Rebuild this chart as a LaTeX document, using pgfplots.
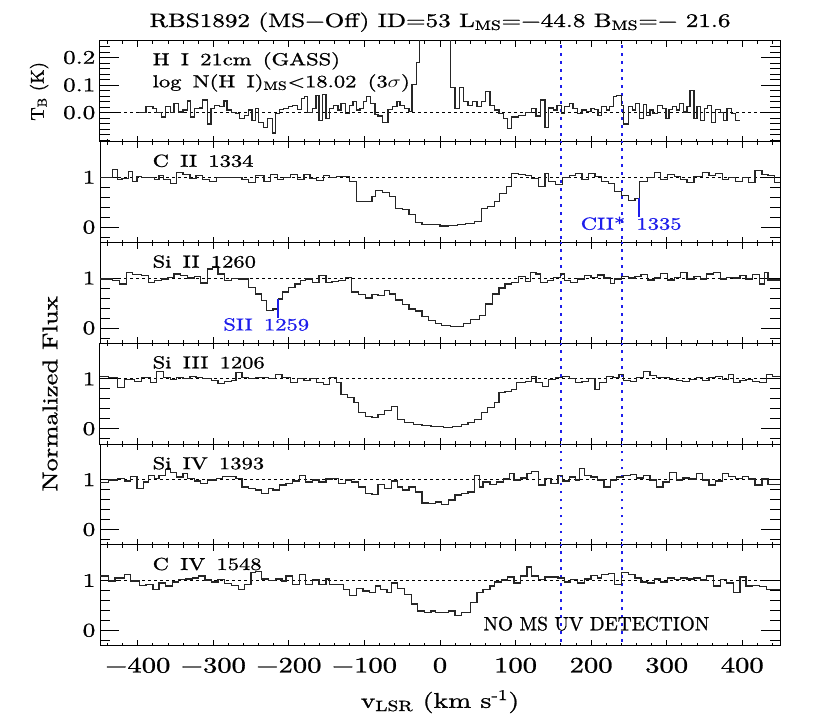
\RequirePackage{fix-cm}
\documentclass[border=0pt]{standalone}
\usepackage{fontspec}
\setmainfont{lmroman10-regular.otf}[FakeBold=0.9]
\usepackage{graphicx}
\usepackage{pgfplots}
\pgfplotsset{compat=1.18}
\usepgfplotslibrary{groupplots}
\definecolor{idlblue}{RGB}{30,30,235}
\newcommand{\W}[1]{\scalebox{1.3}[1]{#1}}
\newcommand{\fs}[1]{\fontsize{#1}{#1}\selectfont}
\newcommand{\gap}{\hspace{0.5em}}

\pgfplotsset{
  spec/.style={const plot, black!85, line width=0.95pt},
  unity/.style={black, line width=0.6pt, dash pattern=on 2pt off 2.5pt},
  msline/.style={idlblue, line width=1.1pt, dash pattern=on 2.2pt off 3.8pt},
  flux/.style={ymin=-0.31, ymax=1.71, ytick={0,1}, yticklabels={\W{0},\W{1}},
    minor ytick={-0.2,0.2,0.4,0.6,0.8}},
}

\begin{document}
\begin{tikzpicture}
\begin{groupplot}[
  group style={group size=1 by 6, vertical sep=0pt, xticklabels at=edge bottom, group name=G},
  width=510pt, height=75.6pt, scale only axis,
  xmin=-450, xmax=450,
  xtick={-400,-300,...,400},
  minor xtick={-440,-420,...,440},
  xticklabels={\W{−400},\W{−300},\W{−200},\W{−100},\W{0},\W{100},\W{200},\W{300},\W{400}},
  tick align=inside,
  major tick length=14pt, minor tick length=7.5pt,
  xtick style={/pgfplots/major tick length=4.5pt, /pgfplots/minor tick length=2.25pt},
  tick style={black, line width=0.6pt},
  axis line style={black, line width=0.75pt},
  yticklabel pos=left,
  xticklabel style={font=\fs{16.5}, anchor=base, yshift=-20pt},
  yticklabel style={font=\fs{14.5}},
  clip mode=individual,
]

% ---- H I 21cm
\nextgroupplot[ymin=-0.106, ymax=0.26, ytick={0,0.1,0.2},
  yticklabels={\W{0.0},\W{0.1},\W{0.2}},
  minor ytick={-0.1,-0.08,-0.06,-0.04,-0.02,0.02,0.04,0.06,0.08,0.12,0.14,0.16,0.18,0.22,0.24}]
\addplot[unity] coordinates {(-450,0) (450,0)};
\addplot[msline] coordinates {(160,-0.2) (160,0.3)};
\addplot[msline] coordinates {(241,-0.2) (241,0.3)};
\addplot[spec] coordinates {
(-398,0.000) (-389,0.021) (-380,0.015) (-375,0.0) (-369,-0.016) (-363,0.021) (-357,0.0)
(-352,0.033) (-346,0.002) (-340,0.009) (-334,0.042) (-330,-0.016) (-325,0.015) (-318,0.017)
(-314,0.046) (-308,-0.041) (-303,0.015) (-298,0.027) (-292,0.021) (-286,0.042) (-282,0.009)
(-276,0.0) (-270,-0.004) (-265,-0.022) (-259,-0.010) (-253,0.009) (-249,-0.028) (-244,0.015)
(-240,-0.035) (-234,-0.053) (-228,-0.022) (-222,-0.074) (-218,-0.004) (-212,0.012) (-207,0.015)
(-201,0.021) (-195,0.027) (-189,0.012) (-183,0.052) (-179,0.058) (-175,0.0) (-169,0.015)
(-164,0.062) (-160,-0.028) (-156,0.067) (-151,-0.022) (-146,0.015) (-141,0.027) (-135,0.009)
(-131,0.033) (-125,-0.004) (-120,0.027) (-115,0.040) (-111,0.009) (-106,0.015) (-101,0.040)
(-97,0.058) (-92,0.033) (-86,-0.007) (-82,-0.012) (-76,-0.035) (-69,0.012) (-63,0.021)
(-57,0.040) (-53,0.027) (-47,0.015) (-41,0.005) (-37,0.101) (-31,0.181) (-27,0.45) (-22,0.9)
(-16,1.3) (-10,1.5) (-4,1.4) (2,1.1) (8,0.7) (14,0.091) (20,0.015) (26,0.091) (31,0.040)
(37,0.027) (43,0.040) (49,0.021) (55,0.040) (60,0.077) (66,0.027) (72,0.009) (78,-0.004)
(84,-0.022) (89,-0.059) (95,-0.016) (104,-0.010) (113,0.0) (121,0.015) (127,-0.012) (133,0.046)
(139,-0.053) (144,0.017) (150,0.009) (155,0.027) (161,-0.004) (165,0.021) (171,0.033) (176,0.015)
(182,-0.004) (188,0.009) (194,0.005) (200,0.015) (204,0.012) (209,-0.010) (214,0.021) (220,0.009)
(224,0.021) (230,0.058) (234,0.062) (240,0.027) (243,-0.041) (249,0.021) (255,0.009) (259,0.033)
(264,-0.022) (269,0.030) (273,-0.010) (278,0.009) (282,-0.004) (288,0.027) (294,0.015) (299,-0.022)
(303,0.012) (308,0.021) (313,0.009) (317,0.033) (322,0.002) (327,0.021) (331,0.079) (336,-0.022)
(340,0.021) (345,-0.028) (350,0.015) (354,0.027) (359,-0.035) (365,0.012) (371,0.0) (375,-0.028)
(380,0.015) (386,-0.004) (391,-0.028) (397,-0.028)};
\node[anchor=base, font=\fs{14.5}] at (rel axis cs:0.5,1) [yshift=10.5pt]
  {\W{RBS1892 (MS−Off) ID=53 L\textsubscript{MS}=−44.8 B\textsubscript{MS}=− 21.6}};
\node[anchor=base west, font=\fs{13}] at (axis cs:-386.5,0.172)
  {\W{H\gap I\gap 21cm\gap (GASS)}};
\node[anchor=base west, font=\fs{13}] at (axis cs:-386.5,0.092)
  {\W{log\gap N(H\gap I)\textsubscript{MS}<18.02\gap (3$\sigma$)}};
\node[rotate=90, anchor=south, font=\fs{14}] at (axis cs:-512,0.077)
  {T\textsubscript{B} (K)};

% ---- C II
\nextgroupplot[flux]
\addplot[unity] coordinates {(-450,1) (450,1)};
\addplot[msline] coordinates {(160,-0.4) (160,1.8)};
\addplot[msline] coordinates {(241,-0.4) (241,1.8)};
\addplot[spec] coordinates {
(-450,1.00) (-433,1.16) (-427,0.96) (-421,0.98) (-412,1.11) (-407,0.91) (-401,1.02) (-395,1.00)
(-378,0.96) (-372,1.03) (-366,0.95) (-357,0.88) (-349,1.10) (-340,1.06) (-331,0.98) (-323,1.03)
(-314,0.96) (-305,0.91) (-296,0.99) (-279,1.00) (-262,0.95) (-253,0.90) (-244,1.03) (-233,0.91)
(-224,1.05) (-215,0.96) (-207,1.00) (-198,1.06) (-189,0.96) (-180,1.06) (-172,0.98) (-163,0.93)
(-154,1.04) (-146,0.99) (-137,1.01) (-120,0.91) (-111,0.52) (-99,0.52) (-90,0.62) (-85,0.73)
(-76,0.69) (-67,0.62) (-59,0.38) (-50,0.35) (-41,0.25) (-32,0.10) (-24,0.05) (-12,0.05) (0,0.02)
(11,0.03) (23,0.05) (34,0.08) (46,0.12) (55,0.38) (63,0.42) (72,0.52) (79,0.68) (88,0.81)
(95,1.08) (104,1.05) (113,1.03) (121,0.98) (130,0.81) (139,1.08) (144,0.91) (153,0.86) (162,1.00)
(171,1.03) (179,1.08) (188,0.96) (197,1.07) (205,1.01) (214,0.91) (223,0.88) (231,0.71) (240,0.63)
(249,0.53) (258,0.58) (264,0.91) (275,1.00) (284,1.10) (292,0.96) (301,1.05) (310,1.01) (318,0.95)
(327,0.90) (336,1.01) (347,1.09) (356,1.03) (365,1.08) (374,0.95) (382,1.00) (391,0.91) (400,1.00)
(408,0.89) (417,1.13) (426,1.05) (434,1.03) (443,0.90) (450,0.90)};
\addplot[idlblue, line width=1.5pt] coordinates {(264,0.2) (264,0.58)};
\node[anchor=base, idlblue, font=\fs{13}] at (axis cs:253,-0.05) {\W{CII*\gap 1335}};
\node[anchor=base west, font=\fs{13}] at (axis cs:-386.5,1.21) {\W{C\gap II\gap 1334}};

% ---- Si II
\nextgroupplot[flux]
\addplot[unity] coordinates {(-450,1) (450,1)};
\addplot[msline] coordinates {(160,-0.4) (160,1.8)};
\addplot[msline] coordinates {(241,-0.4) (241,1.8)};
\addplot[spec] coordinates {
(-450,0.98) (-433,0.95) (-424,0.88) (-415,1.11) (-407,1.07) (-395,1.05) (-386,0.91) (-378,0.95)
(-369,0.98) (-360,1.01) (-352,1.08) (-343,1.05) (-334,1.00) (-325,1.03) (-317,0.90) (-308,1.18)
(-301,1.22) (-294,1.08) (-285,0.95) (-276,0.99) (-267,0.98) (-253,0.81) (-244,0.68) (-236,0.55)
(-230,0.35) (-221,0.38) (-214,0.58) (-208,0.72) (-201,0.81) (-192,0.88) (-185,0.95) (-178,0.98)
(-169,0.91) (-160,1.05) (-151,0.91) (-143,0.93) (-134,0.95) (-125,1.01) (-117,0.72) (-108,0.67)
(-99,0.60) (-90,0.67) (-82,0.65) (-73,0.75) (-67,0.68) (-59,0.56) (-50,0.47) (-41,0.38) (-32,0.34)
(-24,0.23) (-15,0.15) (-6,0.09) (2,0.05) (14,0.03) (31,0.09) (40,0.17) (52,0.25) (60,0.48)
(69,0.68) (78,0.80) (86,0.88) (95,0.91) (104,1.03) (113,0.93) (120,1.11) (127,1.08) (133,0.91)
(142,0.95) (150,1.01) (159,1.08) (165,0.95) (173,0.91) (182,0.98) (191,1.05) (200,1.01) (208,1.06)
(217,1.00) (226,0.89) (231,0.98) (240,1.03) (249,1.00) (258,1.03) (266,1.07) (275,0.96) (284,1.00)
(292,1.09) (301,0.96) (310,1.01) (318,1.11) (327,0.98) (336,1.03) (345,0.98) (353,1.08) (362,1.11)
(371,0.98) (379,1.01) (388,1.00) (397,1.05) (405,0.98) (414,1.07) (423,0.88) (429,1.11) (434,0.96)
(450,0.96)};
\addplot[idlblue, line width=1.5pt] coordinates {(-215,0.2) (-215,0.58)};
\node[anchor=base, idlblue, font=\fs{13}] at (axis cs:-230,-0.05) {\W{SII\gap 1259}};
\node[anchor=base west, font=\fs{13}] at (axis cs:-386.5,1.21) {\W{Si\gap II\gap 1260}};

% ---- Si III
\nextgroupplot[flux]
\addplot[unity] coordinates {(-450,1) (450,1)};
\addplot[msline] coordinates {(160,-0.4) (160,1.8)};
\addplot[msline] coordinates {(241,-0.4) (241,1.8)};
\addplot[spec] coordinates {
(-450,1.05) (-439,1.02) (-427,0.82) (-418,0.99) (-404,0.94) (-395,1.03) (-383,0.92) (-375,1.14)
(-366,1.02) (-357,0.99) (-349,1.03) (-340,1.01) (-331,1.05) (-323,1.02) (-314,1.01) (-302,0.97)
(-294,0.90) (-285,0.95) (-276,0.97) (-270,1.12) (-262,1.02) (-253,1.01) (-244,1.03) (-227,1.01)
(-218,1.09) (-209,1.02) (-198,0.92) (-189,1.01) (-180,0.97) (-172,1.01) (-163,0.92) (-154,0.89)
(-146,1.02) (-137,0.92) (-131,0.69) (-122,0.62) (-114,0.52) (-108,0.32) (-99,0.25) (-90,0.23)
(-82,0.29) (-73,0.37) (-64,0.45) (-56,0.19) (-47,0.13) (-35,0.09) (-24,0.07) (-12,0.05) (5,0.02)
(17,0.05) (28,0.09) (37,0.12) (46,0.19) (55,0.32) (63,0.42) (72,0.52) (78,0.72) (86,0.74) (95,0.79)
(101,0.92) (113,0.95) (121,1.05) (127,0.92) (136,0.85) (144,0.99) (153,1.02) (162,1.05) (171,1.01)
(179,0.92) (188,0.95) (197,1.01) (205,0.79) (211,0.92) (220,1.05) (229,1.02) (237,1.09) (243,0.97)
(252,0.94) (260,1.02) (269,1.14) (278,1.07) (287,1.02) (295,1.03) (304,0.99) (313,0.97) (321,0.95)
(330,0.99) (339,1.03) (347,0.97) (356,1.03) (365,1.05) (374,0.99) (382,1.09) (388,0.92) (397,0.97)
(405,0.99) (414,0.95) (423,0.92) (432,1.09) (440,1.05) (450,1.05)};
\node[anchor=base west, font=\fs{13}] at (axis cs:-386.5,1.21) {\W{Si\gap III\gap 1206}};
\node[rotate=90, anchor=south, font=\fs{16}] at (axis cs:-500,0.70)
  {\scalebox{1.25}[1]{Normalized Flux}};

% ---- Si IV
\nextgroupplot[flux]
\addplot[unity] coordinates {(-450,1) (450,1)};
\addplot[msline] coordinates {(160,-0.4) (160,1.8)};
\addplot[msline] coordinates {(241,-0.4) (241,1.8)};
\addplot[spec] coordinates {
(-450,0.94) (-439,0.99) (-427,1.02) (-418,0.97) (-410,1.07) (-401,0.82) (-392,0.95) (-386,1.09)
(-378,1.02) (-372,1.09) (-363,1.21) (-357,1.14) (-349,1.05) (-340,1.12) (-334,1.02) (-325,0.97)
(-317,0.92) (-308,0.99) (-296,1.02) (-288,1.07) (-279,1.07) (-270,1.02) (-262,0.85) (-253,0.82)
(-244,0.79) (-236,0.72) (-227,0.82) (-221,0.79) (-212,0.89) (-204,0.92) (-195,0.97) (-186,1.09)
(-178,0.95) (-169,0.99) (-160,0.95) (-151,1.01) (-143,1.02) (-134,0.92) (-125,0.99) (-117,0.95)
(-108,0.85) (-99,0.72) (-90,0.70) (-82,0.90) (-73,0.82) (-64,0.97) (-56,0.85) (-50,0.79) (-41,0.85)
(-32,0.75) (-24,0.53) (-15,0.52) (-6,0.55) (2,0.50) (11,0.59) (20,0.69) (28,0.72) (37,0.75)
(46,1.09) (52,0.85) (57,0.95) (66,0.90) (75,0.95) (84,1.01) (92,1.12) (98,0.99) (107,1.03)
(115,1.12) (121,1.17) (130,0.89) (139,1.02) (147,0.92) (156,1.09) (162,0.97) (171,1.05) (179,0.99)
(185,1.23) (191,1.09) (200,1.05) (208,0.99) (217,0.85) (226,0.99) (234,1.05) (243,1.09) (252,1.10)
(260,1.03) (269,1.09) (278,0.99) (287,0.85) (295,0.95) (304,1.15) (313,0.99) (321,1.03) (330,1.01)
(339,1.12) (347,0.99) (356,0.89) (365,0.97) (374,1.12) (382,1.07) (391,1.02) (400,1.07) (408,1.01)
(417,0.89) (426,1.01) (434,0.90) (450,0.90)};
\node[anchor=base west, font=\fs{13}] at (axis cs:-386.5,1.21) {\W{Si\gap IV\gap 1393}};

% ---- C IV
\nextgroupplot[flux]
\addplot[unity] coordinates {(-450,1) (450,1)};
\addplot[msline] coordinates {(160,-0.4) (160,1.8)};
\addplot[msline] coordinates {(241,-0.4) (241,1.8)};
\addplot[spec] coordinates {
(-450,1.09) (-439,0.99) (-430,1.05) (-418,1.12) (-410,0.99) (-398,0.90) (-389,0.92) (-380,0.82)
(-372,0.95) (-363,0.89) (-354,0.97) (-346,1.02) (-337,1.03) (-328,1.05) (-320,1.09) (-311,1.01)
(-302,0.97) (-294,1.02) (-285,0.94) (-276,0.90) (-267,0.82) (-259,0.92) (-250,1.16) (-244,1.18)
(-236,1.03) (-227,1.00) (-218,1.03) (-209,0.99) (-204,1.09) (-195,0.92) (-186,1.12) (-178,0.92)
(-169,1.01) (-160,0.92) (-151,1.03) (-146,0.92) (-128,0.82) (-120,0.70) (-111,0.84) (-102,0.79)
(-93,0.76) (-85,0.89) (-79,0.82) (-70,0.76) (-64,0.95) (-56,0.84) (-47,0.72) (-38,0.53) (-30,0.39)
(-21,0.36) (-12,0.39) (-6,0.35) (2,0.36) (11,0.39) (20,0.30) (28,0.35) (40,0.56) (49,0.76)
(57,0.82) (66,0.89) (72,0.97) (81,1.01) (89,1.07) (98,0.95) (107,1.09) (115,1.27) (121,1.09)
(130,1.02) (139,1.07) (156,1.05) (165,0.97) (173,1.02) (182,0.95) (191,1.03) (200,1.10) (208,1.05)
(214,1.12) (223,1.14) (231,0.92) (240,1.16) (249,1.12) (258,1.05) (266,0.97) (275,0.95) (284,1.03)
(292,0.97) (301,1.05) (310,1.02) (318,1.05) (327,1.03) (336,1.05) (345,1.01) (353,1.09) (362,0.89)
(371,1.02) (379,0.95) (388,0.76) (397,1.07) (405,0.89) (414,0.90) (423,0.88) (432,0.82) (450,0.80)};
\node[anchor=base west, font=\fs{13}] at (axis cs:-386.5,1.21) {\W{C\gap IV\gap 1548}};
\node[anchor=base, font=\fs{14.5}] at (axis cs:207,0.0) {NO MS UV DETECTION};
\node[anchor=base, font=\fs{16}] at (rel axis cs:0.5,0) [yshift=-46.5pt]
  {\W{v\textsubscript{LSR} (km s\textsuperscript{-1})}};
\end{groupplot}
\pgfresetboundingbox
\path[use as bounding box] (G c1r1.north west) ++(-75pt,30.75pt) rectangle ++(622.5pt,-545.25pt);
\end{tikzpicture}
\end{document}
